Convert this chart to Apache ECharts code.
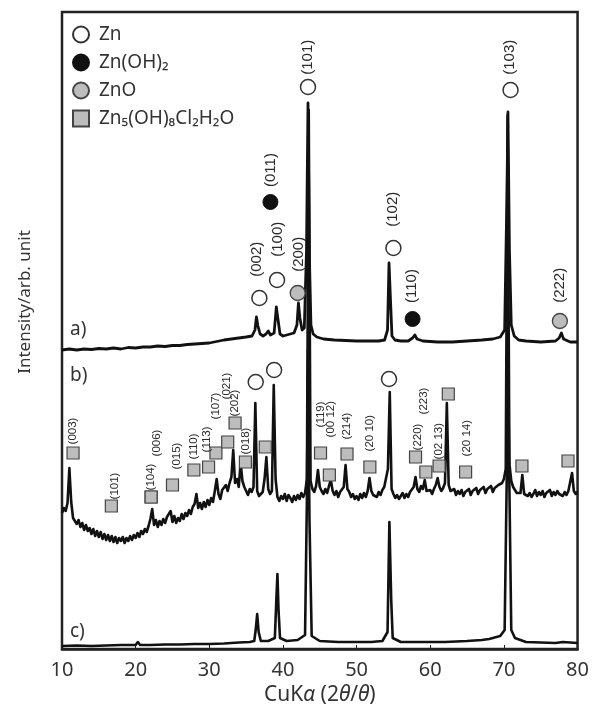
<!DOCTYPE html>
<html>
<head>
<meta charset="utf-8">
<script src="https://cdn.jsdelivr.net/npm/echarts@6/dist/echarts.min.js"></script>
<style>
  html, body { margin: 0; padding: 0; background: #fff; }
  #chart { width: 592px; height: 715px; }
</style>
</head>
<body>
<div id="chart"></div>
<script>
// ---- X-ray diffraction patterns (CuKα), three stacked samples ----
// Intensities are in arbitrary counts; each pattern is lifted by its own offset.

const patternOffsets = { a: 290, b: 100, c: 0 };

// Pattern a) : [2θ, intensity]
const patternA = [
  [10,9],[11,10],[12,9],[13,10],[14,9.5],[15,10.5],[16,10],[17,11],[18,10],[19,11.5],
  [20,11],[21,12],[22,12],[23,13],[24,12.5],[25,13.5],[26,13.5],[27,14.5],[28,15],[29,15.5],
  [30,16],[31,17.5],[32,19],[33,20],[34,21],[35,22],[35.8,23],[36.2,29],[36.4,42],[36.6,33],
  [36.9,25],[37.3,23],[37.7,25],[38.0,28],[38.3,24],[38.8,26],[39.1,52],[39.3,41],[39.6,25],
  [40.0,23],[40.5,24],[41.0,25],[41.5,26],[41.9,34],[42.1,56],[42.3,41],[42.6,29],[42.9,31],
  [43.2,109],[43.4,256],[43.6,99],[43.8,34],[44.1,25],[44.6,22],[45.5,20],[47,19],[48.5,18.5],
  [50,18],[51.5,18],[53,18],[53.8,19],[54.2,29],[54.4,96],[54.6,59],[54.8,23],[55.2,19],
  [56,18],[57,18],[57.6,21],[57.9,24],[58.2,20],[59,18],[61,17],[63,17],[65,18],[67,19],
  [68.5,20],[69.5,22],[70.1,29],[70.4,159],[70.55,247],[70.75,109],[71.0,34],[71.4,23],
  [72,19],[73,18],[75,17],[77,18],[77.5,21],[77.8,26],[78.1,20],[79,17],[80,17]
];

// Pattern b) : measured on a 0.25° step from 10° to 80°
const patternBStart = 10;
const patternBStep = 0.25;
const patternB = [
  36,41,38,46,  81,47,31,33,  25,29,22,26,  19,24,18,21,  15,20,13,18,
  12,17,10,15,  9,14,8,13,    7,12,6,11,    8,12,6,11,    8,13,9,14,
  11,16,12,18,  15,20,17,23,  30,40,24,29,  22,28,24,30,  26,32,30,38,
  27,33,26,31,  28,35,30,36,  33,39,35,42,  45,55,41,46,  40,47,42,49,
  44,51,47,58,  70,55,50,59,  57,64,58,66,  72,99,66,70,  62,86,68,62,
  58,54,60,57,  62,146,58,53, 51,57,70,92,  60,55,58,164, 70,52,48,53,
  50,55,48,54,  51,47,53,49,  54,50,56,52,  56,70,439,68, 60,57,63,79,
  62,58,55,60,  56,63,69,58,  54,58,52,57,  55,62,84,60,  57,52,55,50,
  53,49,55,51,  56,52,58,71,  58,54,56,52,  57,54,59,62,  64,80,157,60,
  55,51,54,50,  53,56,51,55,  52,57,55,62,  72,60,57,63,  60,69,58,56,
  59,55,60,64,  71,62,58,61,  66,146,64,58, 56,60,54,58,  55,59,53,57,
  56,60,54,58,  57,61,55,59,  58,62,56,60,  59,63,57,61,  60,64,62,66,
  70,80,434,85, 68,62,60,56,  58,56,74,55,  57,53,56,52,  55,59,53,57,
  54,58,52,56,  55,59,53,57,  54,58,55,57,  53,57,54,58,  60,76,58,55,
  57
];

// Pattern c) : [2θ, intensity]
const patternC = [
  [10,3],[12,3.5],[14,3],[16,3.5],[18,4],[20,4],[20.3,7],[20.6,4],[22,4],[24,4.5],[26,4.5],
  [28,5],[30,5],[32,5.5],[34,6.5],[35.5,7],[36.1,8],[36.3,19],[36.5,35],[36.7,17],[37.0,8],
  [38,8],[38.9,11],[39.1,49],[39.25,75],[39.4,39],[39.6,11],[40.5,8],[42,9],[43.0,14],
  [43.25,149],[43.4,299],[43.6,129],[43.9,13],[45,8],[47.5,7],[50,7],[52,7],[53.5,8],
  [54.2,17],[54.45,127],[54.7,49],[54.9,11],[56,7],[58,7],[60,7],[62,7],[65,8],[67,9],
  [68,10],[69.5,13],[70.1,19],[70.4,179],[70.55,299],[70.75,159],[71.0,19],[71.5,11],
  [73,7],[75,6.5],[77,6],[78,7],[80,6]
];

// Phase markers: [2θ, plotted height, (hkl)]
const phaseNames = ['Zn', 'Zn(OH)₂', 'ZnO', 'Zn₅(OH)₈Cl₂H₂O'];
const markersZn = [
  [43.4,562,'(101)'], [70.9,559,'(103)'], [36.8,351,'(002)'], [39.2,369,'(100)'], [55.0,401,'(102)'],
  [36.3,267,''], [38.8,279,''], [54.4,270,'']
];
const markersZnOH2 = [[38.3,447,'(011)'], [57.6,330,'(110)']];
const markersZnO = [[42.0,356,'(200)'], [77.6,328,'(222)']];
const markersSimonkolleite = [
  [11.5,196,'(003)'], [16.7,143,'(101)'], [22.1,152,'(104)'], [22.1,152,'(006)'], [25.0,164,'(015)'],
  [27.9,179,'(110)'], [29.9,182,'(113)'], [30.9,196,'(107)'], [32.5,207,'(021)'], [33.5,226,'(202)'],
  [34.9,187,'(018)'], [37.6,202,''], [45.1,196,'(119)'], [46.3,174,'(00 12)'], [48.7,195,'(214)'],
  [51.8,182,'(20 10)'], [58.0,192,'(220)'], [59.4,177,'(223)'], [61.2,183,'(02 13)'], [62.45,255,''],
  [64.8,177,'(20 14)'], [72.45,183,''], [78.7,188,'']
];

const xTicks = [10, 20, 30, 40, 50, 60, 70, 80];

// ---- layout helpers ----
// label placement above each marker: [gap above marker (px), sideways shift (px)]
const labelNudgeTop = {
  '(101)': [4, 0], '(103)': [7, -1], '(011)': [7, 0], '(002)': [13, -3], '(100)': [15, 1],
  '(200)': [13, 1], '(102)': [13, -1], '(110)': [8, -1], '(222)': [10, 0]
};
const labelNudgeSimonk = {
  '(003)': [2, 0], '(101)': [0, 3], '(104)': [0, 0], '(006)': [34, 6], '(015)': [9, 4],
  '(110)': [4, 0], '(113)': [8, -2], '(107)': [27, 0], '(021)': [36, -1], '(202)': [0, 0],
  '(018)': [1, 0], '(119)': [19, 0], '(00 12)': [31, 1], '(214)': [8, 0], '(20 10)': [9, 0],
  '(220)': [0, 2], '(223)': [51, -2], '(02 13)': [0, 0], '(20 14)': [9, 1]
};

const FONT = '"Noto Sans", "Open Sans", "DejaVu Sans", sans-serif';
const INK = '#111';
const TEXT = '#333';

function offsetPairs(pairs, off) {
  return pairs.map(p => [p[0], p[1] + off]);
}
function gridPairs(values, start, step, off) {
  return values.map((v, i) => [start + i * step, v + off]);
}
// Labels are rotated 90°, so the label's local y axis points to the right on screen.
function markerData(list, nudges, fontSize) {
  return list.map(m => {
    const n = nudges[m[2]] || [6, 0];
    return {
      value: [m[0], m[1]],
      name: m[2],
      label: {
        show: m[2] !== '',
        distance: n[0],
        offset: [0, n[1]],
        fontSize: fontSize
      }
    };
  });
}
const hklLabel = {
  show: true,
  formatter: p => p.name,
  position: 'top',
  rotate: 90,
  align: 'left',
  verticalAlign: 'middle',
  color: '#2a2a2a',
  fontFamily: '"Liberation Sans", Arial, sans-serif'
};

function lineSeries(data, width) {
  return {
    type: 'line', data: data, showSymbol: false, symbol: 'none', sampling: 'none',
    lineStyle: { color: INK, width: width, join: 'round' }, z: 2, silent: true
  };
}

const chart = echarts.init(document.getElementById('chart'), null, { renderer: 'canvas' });

chart.setOption({
  animation: false,
  backgroundColor: '#fff',
  grid: {
    left: 62, right: 10, top: 12, bottom: 66,
    show: true, borderColor: '#222', borderWidth: 2.5, backgroundColor: 'transparent'
  },
  xAxis: {
    type: 'value', min: xTicks[0], max: xTicks[xTicks.length - 1], interval: 10,
    axisLine: { show: true, lineStyle: { color: '#222', width: 2.5 } },
    axisTick: { show: true, inside: true, length: 4, lineStyle: { color: '#222' } },
    splitLine: { show: false },
    axisLabel: { fontSize: 20, color: TEXT, fontFamily: FONT, margin: 11 },
    name: '{n|CuK}{i|α}{n| (2}{i|θ}{n|/}{i|θ}{n|)}',
    nameLocation: 'middle',
    nameGap: 32,
    nameTextStyle: {
      rich: {
        n: { fontSize: 21, color: TEXT, fontFamily: FONT },
        i: { fontSize: 21, color: TEXT, fontFamily: FONT, fontStyle: 'italic' }
      }
    }
  },
  yAxis: { type: 'value', min: 0, max: 637, show: false },
  legend: {
    orient: 'vertical', left: 67, top: 20,
    itemWidth: 16, itemHeight: 16, itemGap: 9,
    data: phaseNames,
    textStyle: { fontSize: 19, color: TEXT, fontFamily: FONT, padding: [0, 0, 0, 5] },
    selectedMode: false
  },
  graphic: [
    { type: 'text', x: 25, y: 302, rotation: Math.PI / 2,
      style: { text: 'Intensity/arb. unit', fill: TEXT, font: '17px ' + FONT, textAlign: 'center', textVerticalAlign: 'middle' } },
    { type: 'text', x: 70, y: 330, style: { text: 'a)', fill: TEXT, font: '19px ' + FONT, textVerticalAlign: 'middle' } },
    { type: 'text', x: 70, y: 376, style: { text: 'b)', fill: TEXT, font: '19px ' + FONT, textVerticalAlign: 'middle' } },
    { type: 'text', x: 70, y: 632, style: { text: 'c)', fill: TEXT, font: '19px ' + FONT, textVerticalAlign: 'middle' } }
  ],
  series: [
    lineSeries(offsetPairs(patternC, patternOffsets.c), 2.6),
    lineSeries(gridPairs(patternB, patternBStart, patternBStep, patternOffsets.b), 2.6),
    lineSeries(offsetPairs(patternA, patternOffsets.a), 2.8),
    {
      name: phaseNames[0], type: 'scatter', symbol: 'circle', symbolSize: 15, z: 5,
      itemStyle: { color: '#fff', borderColor: '#333', borderWidth: 1.5, opacity: 1 },
      label: hklLabel,
      data: markerData(markersZn, labelNudgeTop, 15)
    },
    {
      name: phaseNames[1], type: 'scatter', symbol: 'circle', symbolSize: 15, z: 5,
      itemStyle: { color: '#111', borderColor: '#111', borderWidth: 1, opacity: 1 },
      label: hklLabel,
      data: markerData(markersZnOH2, labelNudgeTop, 15)
    },
    {
      name: phaseNames[2], type: 'scatter', symbol: 'circle', symbolSize: 15, z: 5,
      itemStyle: { color: '#bdbdbd', borderColor: '#444', borderWidth: 1.3, opacity: 1 },
      label: hklLabel,
      data: markerData(markersZnO, labelNudgeTop, 15)
    },
    {
      name: phaseNames[3], type: 'scatter', symbol: 'rect', symbolSize: 12, z: 5,
      itemStyle: { color: '#bdbdbd', borderColor: '#444', borderWidth: 1.2, opacity: 1 },
      label: hklLabel,
      data: markerData(markersSimonkolleite, labelNudgeSimonk, 11.5)
    }
  ]
});
</script>
</body>
</html>
